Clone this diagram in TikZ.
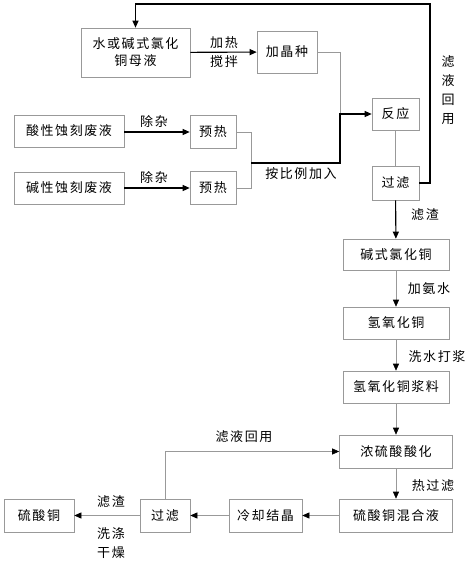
\documentclass[tikz,border=0pt]{standalone}
\usepackage{fontspec}
\setmainfont{Noto Sans CJK SC}[LetterSpace=12]
\usetikzlibrary{arrows.meta, positioning}

\begin{document}
\begin{tikzpicture}[
    x=1pt, y=-1pt,
    box/.style={draw=black!40, line width=0.6pt, minimum height=33pt, inner sep=1pt,
                font=\fontsize{13}{17}\selectfont, align=center},
    gline/.style={draw=black!40, line width=0.6pt},
    arr/.style={gline, -{Triangle[color=black, length=7pt, width=6pt]}},
    barr/.style={line width=1.1pt, -{Triangle[length=7pt, width=6pt]}},
    bline/.style={line width=1.1pt},
    lbl/.style={font=\fontsize{13}{17}\selectfont, inner sep=1pt, align=center},
]
\useasboundingbox (0,0) rectangle (474,563);
% === Top section: seed crystals and the two etching wastes ===
\node[box, minimum width=109pt, minimum height=49pt] (mother) at (135.5,52.5) {水或碱式氯化\\铜母液};
\node[box, minimum width=60pt, minimum height=42pt] (seed) at (287,52) {加晶种};
\node[box, minimum width=110pt, minimum height=32pt] (acid) at (69,131) {酸性蚀刻废液};
\node[box, minimum width=46pt] (pre1) at (213,132) {预热};
\node[box, minimum width=110pt, minimum height=32pt] (alk) at (69,188) {碱性蚀刻废液};
\node[box, minimum width=46pt] (pre2) at (213,188) {预热};
\node[box, minimum width=47pt, minimum height=32pt] (react) at (395.5,114) {反应};
\node[box, minimum width=47pt, minimum height=34pt] (filt1) at (395.5,183) {过滤};
\coordinate (join) at (340,114);
\coordinate (bus) at (251,163);
\coordinate (loop) at (430,4);
\draw[barr] (mother) -- (seed);
\node[lbl] (heat) at (224,43) {加热};
\node[lbl] (stir) at (224,62) {搅拌};
\draw[barr] (acid.east |- pre1) -- (pre1);
\node[lbl] (clean1) at (154,122) {除杂};
\draw[barr] (alk) -- (pre2);
\node[lbl] (clean2) at (154,178) {除杂};
\draw[gline] (seed.east) -| (join);
\draw[gline] (pre1.east) -| (bus);
\draw[gline] (pre2.east) -| (bus);
\draw[barr] (bus) -| (join) -- (react.west);
\node[lbl] (ratio) at (301,174) {按比例加入};
\draw[gline] (react) -- (filt1);
\draw[barr] (filt1.east) -| (loop) -| (mother.north);
\node[lbl] (back1) at (448,90) {滤\\[2pt]液\\[2pt]回\\[2pt]用};
% === Copper hydroxide line ===
\node[box, minimum width=106pt, minimum height=31pt] (bcc) at (396,254.5) {碱式氯化铜};
\node[box, minimum width=106pt, minimum height=32pt] (hyd) at (396,323) {氢氧化铜};
\node[box, minimum width=106pt, minimum height=32pt] (slurry) at (396,387) {氢氧化铜浆料};
\draw[barr] (filt1) -- (bcc);
\node[lbl] (resid1) at (425,215) {滤渣};
\draw[arr] (bcc) -- (hyd);
\node[lbl] (ammon) at (429,289) {加氨水};
\draw[arr] (hyd) -- (slurry);
\node[lbl] (wash) at (437,357) {洗水打浆};
% === Sulfuric acid and crystallisation ===
\node[box, minimum width=113pt] (acidify) at (396,451.5) {浓硫酸酸化};
\node[box, minimum width=113pt] (mix) at (396,515.5) {硫酸铜混合液};
\node[box, minimum width=73pt] (cool) at (265.5,515.5) {冷却结晶};
\node[box, minimum width=50pt] (filt2) at (165,515.5) {过滤};
\node[box, minimum width=70pt] (prod) at (39,515.5) {硫酸铜};
\draw[arr] (slurry) -- (acidify);
\draw[arr] (acidify) -- (mix);
\node[lbl] (hotf) at (433,486) {热过滤};
\draw[arr] (mix) -- (cool);
\draw[arr] (cool) -- (filt2);
\draw[arr] (filt2) -- (prod);
\node[lbl] (resid2) at (111,502) {滤渣};
\node[lbl] (dry) at (111,543) {洗涤\\[2pt]干燥};
\draw[arr] (filt2.north) |- (acidify.west);
\node[lbl] (back2) at (244,437) {滤液回用};
\end{tikzpicture}
\end{document}
